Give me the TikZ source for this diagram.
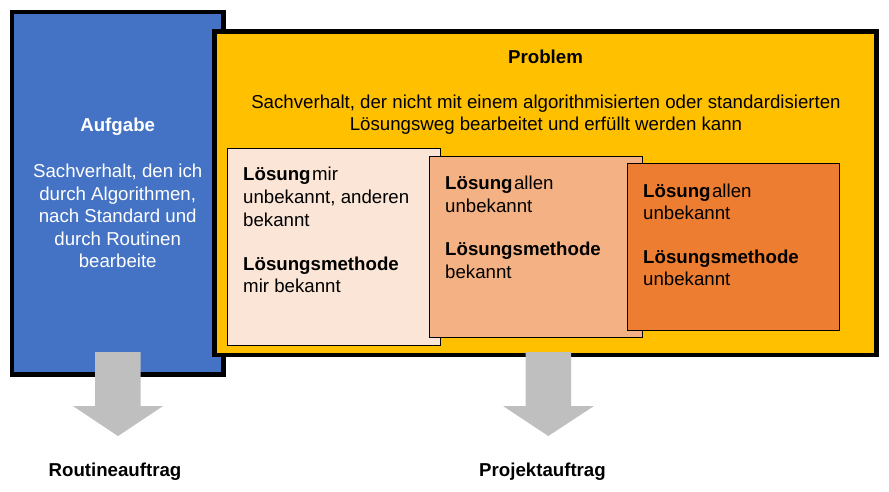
\documentclass[tikz,border=0pt]{standalone}
\usepackage{fontspec}
\setmainfont{Liberation Sans}
\definecolor{aufblue}{HTML}{4472C4}
\definecolor{probyellow}{HTML}{FFC000}
\definecolor{peachA}{HTML}{FBE5D6}
\definecolor{peachB}{HTML}{F4B183}
\definecolor{peachC}{HTML}{ED7D31}
\definecolor{arrowgray}{HTML}{BFBFBF}
\newcommand{\tightgap}{\hspace{1.5pt}}
\begin{document}
\begin{tikzpicture}[x=1pt,y=-1pt,
  txt/.style={inner sep=0pt, anchor=base west, font=\fontsize{18.67}{22.4}\selectfont},
  ctxt/.style={inner sep=0pt, anchor=base, font=\fontsize{18.67}{22.4}\selectfont},
  bigbox/.style={draw=black, line width=4.5pt},
  subbox/.style={draw=black, line width=0.8pt},
  blockarrow/.style={fill=arrowgray, draw=none}]
\useasboundingbox (0,0) rectangle (889,492);
\fill[white] (0,0) rectangle (889,492);

% main boxes
\draw[bigbox, fill=aufblue] (12,12) rectangle (223.4,374.7);
\draw[bigbox, fill=probyellow] (214.5,31.5) rectangle (876.5,355);

% sub boxes
\draw[subbox, fill=peachA] (227,148) rectangle (440,345);
\draw[subbox, fill=peachB] (429,156) rectangle (642,337);
\draw[subbox, fill=peachC] (627,163) rectangle (839,330);

% Aufgabe texts
\begin{scope}[every node/.append style={text=white}]
\node[ctxt] (auf) at (117.7,132) {\textbf{Aufgabe}};
\node[ctxt] (auf1) at (117.7,178) {Sachverhalt, den ich};
\node[ctxt] (auf2) at (117.7,200.4) {durch Algorithmen,};
\node[ctxt] (auf3) at (117.7,222.8) {nach Standard und};
\node[ctxt] (auf4) at (117.7,245.2) {durch Routinen};
\node[ctxt] (auf5) at (117.7,267.6) {bearbeite};
\end{scope}

% Problem texts
\node[ctxt] (prob) at (545.5,63.5) {\textbf{Problem}};
\node[ctxt] (prob1) at (546,108.5) {Sachverhalt, der nicht mit einem algorithmisierten oder standardisierten};
\node[ctxt] (prob2) at (546,131) {Lösungsweg bearbeitet und erfüllt werden kann};

% box 1
\node[txt] (a1) at (243,181) {\textbf{Lösung}\tightgap mir};
\node[txt] (a2) at (243,203.5) {unbekannt, anderen};
\node[txt] (a3) at (243,226) {bekannt};
\node[txt] (a4) at (243,270) {\textbf{Lösungsmethode}};
\node[txt] (a5) at (243,292.5) {mir bekannt};

% box 2
\node[txt] (b1) at (445,189.5) {\textbf{Lösung}\tightgap allen};
\node[txt] (b2) at (445,212) {unbekannt};
\node[txt] (b3) at (445,255.5) {\textbf{Lösungsmethode}};
\node[txt] (b4) at (445,278) {bekannt};

% box 3
\node[txt] (c1) at (643,197) {\textbf{Lösung}\tightgap allen};
\node[txt] (c2) at (643,219.5) {unbekannt};
\node[txt] (c3) at (643,263) {\textbf{Lösungsmethode}};
\node[txt] (c4) at (643,285.5) {unbekannt};

% block arrows
\fill[blockarrow] (95,352) -- (140.7,352) -- (140.7,406) -- (163,406) -- (118,436) -- (73,406) -- (95,406) -- cycle;
\fill[blockarrow] (525.7,352) -- (571,352) -- (571,406) -- (594,406) -- (548.3,436) -- (503,406) -- (525.7,406) -- cycle;

% bottom labels
\node[ctxt] (routine) at (115,476.7) {\textbf{Routineauftrag}};
\node[ctxt] (projekt) at (542.5,476.7) {\textbf{Projektauftrag}};
\end{tikzpicture}
\end{document}
